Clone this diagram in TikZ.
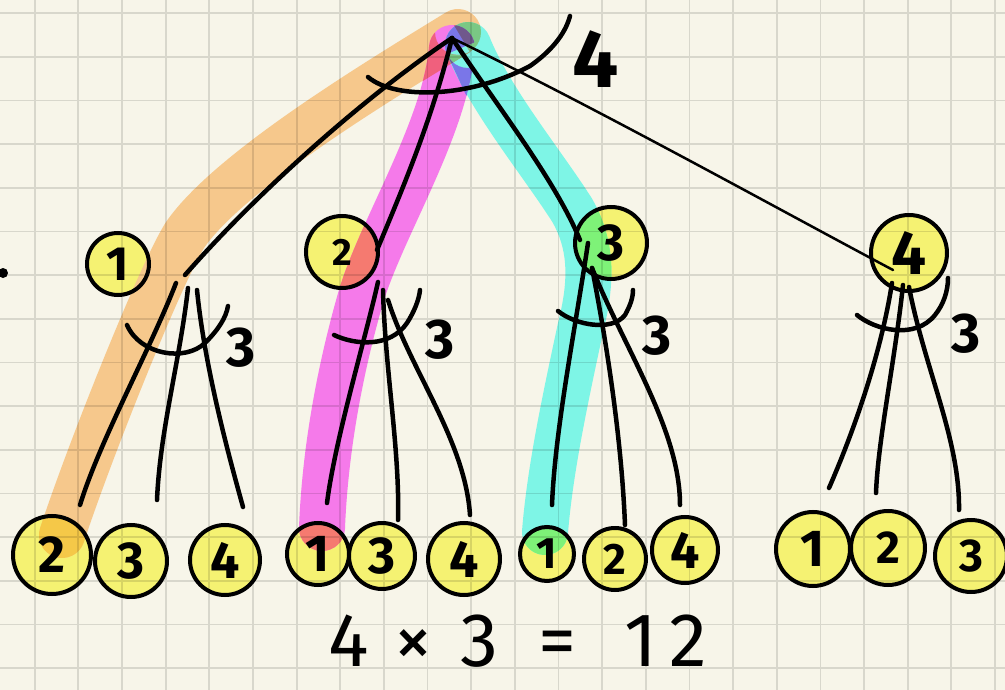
\documentclass[tikz,border=0pt]{standalone}
\usepackage{fontspec}
\setmainfont{Fira Sans}
\definecolor{paper}{RGB}{247,245,233}
\definecolor{discy}{RGB}{245,242,114}
\definecolor{hlorange}{RGB}{246,200,140}
\definecolor{hlmag}{RGB}{245,122,234}
\definecolor{hlcyan}{RGB}{126,245,230}
\definecolor{mixgold}{RGB}{245,200,72}
\definecolor{mixsalmon}{RGB}{245,122,112}
\definecolor{mixgreen}{RGB}{126,242,120}
\definecolor{mixred}{RGB}{240,96,125}
\definecolor{mixocyan}{RGB}{122,200,132}
\definecolor{mixblue}{RGB}{122,118,232}
\definecolor{mixdark}{RGB}{112,88,140}
\tikzset{
  disc/.style={circle, draw=black, line width=4pt, inner sep=0pt},
  ink/.style={line width=4.5pt, line cap=round, line join=round},
  thinink/.style={line width=2.5pt, line cap=round, line join=round},
  hl/.style={line width=46pt, line cap=round, line join=round},
  lbl/.style={inner sep=0pt, font=\bfseries\fontsize{56}{56}\selectfont}
}
% name / x / y / radius / font size / text
\def\disclist{n1/118/264/31/48/1, n2/342/252/36/38/2, n3/611/243/36/52/3, n4/909/253/38/62/4,
  b11/52/555/39/52/2, b12/131/561/36/52/3, b13/225/560/35/52/4,
  b21/318/554/31/52/1, b22/382/556/33/52/3, b23/464/559/36/52/4,
  b31/547/554/27/44/1, b32/615/559/31/44/2, b33/685/550/33/52/4,
  b41/813/549/37/52/1, b42/888/548/37/46/2, b43/971/556/36/46/3}
\def\orangepath{(458,32) .. controls (380,80) and (230,170) .. (185,235) .. controls (160,275) and (90,450) .. (62,535)}
\def\magpath{(452,48) .. controls (445,130) and (380,230) .. (360,300) .. controls (340,370) and (325,450) .. (322,528)}
\def\cyanpath{(468,45) .. controls (490,100) and (540,160) .. (572,210) .. controls (595,250) and (590,290) .. (580,330) .. controls (565,400) and (550,470) .. (545,532)}
\begin{document}
\begin{tikzpicture}[x=1pt,y=-1pt]
\useasboundingbox (0,0) rectangle (1005,690);
\fill[paper] (0,0) rectangle (1005,690);

% disc fills
\foreach \nm/\x/\y/\r/\fs/\t in \disclist { \fill[discy] (\x,\y) circle[radius=\r]; }

% highlighter strokes
\draw[hl, hlorange] \orangepath;
\draw[hl, hlmag] \magpath;
\draw[hl, hlcyan] \cyanpath;
% highlighter over discs
\begin{scope} \clip (52,555) circle[radius=39]; \draw[hl, mixgold] \orangepath; \end{scope}
\begin{scope} \clip (318,554) circle[radius=31]; \draw[hl, mixsalmon] \magpath; \end{scope}
\begin{scope} \clip (342,252) circle[radius=36]; \draw[hl, mixsalmon] \magpath; \end{scope}
\begin{scope} \clip (547,554) circle[radius=27]; \draw[hl, mixgreen] \cyanpath; \end{scope}
\begin{scope} \clip (611,243) circle[radius=36]; \draw[hl, mixgreen] \cyanpath; \end{scope}
% highlighter overlaps at the top
\begin{scope}
  \clip (470,52) -- (446,12) -- (368,60) -- (392,100) -- cycle (458,32) circle[radius=23];
  \draw[hl, mixred] \magpath;
  \draw[hl, mixocyan] \cyanpath;
\end{scope}
\begin{scope}
  \clip (489,36) -- (447,54) -- (479,123) -- (521,106) -- cycle (468,45) circle[radius=23];
  \draw[hl, mixblue] \magpath;
  \begin{scope}
    \clip (470,52) -- (446,12) -- (368,60) -- (392,100) -- cycle (458,32) circle[radius=23];
    \draw[hl, mixdark] \magpath;
  \end{scope}
\end{scope}

% grid paper
\draw[black, opacity=0.12, line width=1.8pt]
  \foreach \i in {0,...,22} { ({34.7+43.65*\i},0) -- ++(0,690) }
  \foreach \j in {0,...,15} { (0,{13.3+43.65*\j}) -- ++(1005,0) };

% stray dot
\fill (3,273) circle[radius=5];

% disc outlines with their numbers
\foreach \nm/\x/\y/\r/\fs/\t in \disclist {
  \node[disc, minimum size={2*\r*1pt}, font=\bfseries\fontsize{\fs}{\fs}\selectfont] (\nm) at (\x,\y) {\t};
}

% connector end points
\coordinate (r) at (452,38);
\coordinate (r1) at (185,275);
\coordinate (r2) at (377,250);
\coordinate (r3) at (580,240);
\coordinate (r4) at (893,270);
\coordinate (t11) at (176,283); \coordinate (e11) at (80,505);
\coordinate (t12) at (188,288); \coordinate (e12) at (157,500);
\coordinate (t13) at (197,290); \coordinate (e13) at (243,507);
\coordinate (t21) at (378,282); \coordinate (e21) at (327,503);
\coordinate (t22) at (383,290); \coordinate (e22) at (398,520);
\coordinate (t23) at (388,300); \coordinate (e23) at (470,515);
\coordinate (t31) at (588,243); \coordinate (e31) at (552,505);
\coordinate (t32) at (592,268); \coordinate (e32) at (625,525);
\coordinate (t33) at (592,268); \coordinate (e33) at (680,505);
\coordinate (t41) at (892,283); \coordinate (e41) at (829,488);
\coordinate (t42) at (903,285); \coordinate (e42) at (876,493);
\coordinate (t43) at (909,287); \coordinate (e43) at (959,510);

% root connectors
\draw[ink] (r) .. controls (360,100) and (255,195) .. (r1);
\draw[ink] (r) .. controls (432,120) and (402,190) .. (r2);
\draw[ink] (r) .. controls (500,110) and (555,180) .. (r3);
\draw[thinink] (r) .. controls (600,110) and (780,210) .. (r4);

% level 1 -> level 2 connectors
\draw[ink] (t11) .. controls (150,350) and (100,440) .. (e11);
\draw[ink] (t12) .. controls (180,360) and (160,430) .. (e12);
\draw[ink] (t13) .. controls (205,370) and (230,460) .. (e13);
\draw[ink] (t21) .. controls (365,340) and (335,440) .. (e21);
\draw[ink] (t22) .. controls (385,370) and (400,450) .. (e22);
\draw[ink] (t23) .. controls (410,370) and (465,440) .. (e23);
\draw[ink] (t31) .. controls (575,330) and (555,430) .. (e31);
\draw[ink] (t32) .. controls (610,360) and (622,450) .. (e32);
\draw[ink] (t33) .. controls (625,350) and (680,430) .. (e33);
\draw[ink] (t41) .. controls (880,360) and (850,440) .. (e41);
\draw[ink] (t42) .. controls (895,360) and (878,440) .. (e42);
\draw[ink] (t43) .. controls (925,370) and (960,440) .. (e43);

% counting arcs
\draw[ink] (368,77) .. controls (395,100) and (470,98) .. (530,66) .. controls (550,52) and (565,35) .. (570,16);
\draw[ink] (127,325) .. controls (140,355) and (185,362) .. (205,343) .. controls (218,330) and (226,318) .. (228,306);
\draw[ink] (334,335) .. controls (355,345) and (390,348) .. (407,323) .. controls (414,312) and (419,300) .. (420,290);
\draw[ink] (558,311) .. controls (575,325) and (612,332) .. (625,315) .. controls (630,306) and (633,298) .. (633,290);
\draw[ink] (857,315) .. controls (875,330) and (915,340) .. (935,315) .. controls (943,305) and (948,292) .. (948,278);

% arc labels
\node[lbl, font=\bfseries\fontsize{82}{82}\selectfont] (l0) at (596,59) {4};
\node[lbl] (l1) at (241,348) {3};
\node[lbl] (l2) at (440,340) {3};
\node[lbl] (l3) at (657,336) {3};
\node[lbl] (l4) at (966,334) {3};

% equation
\node[anchor=base west, inner sep=0pt, font=\fontsize{76}{76}\selectfont] (eq) at (328,666)
  {4\hspace{26pt}×\hspace{28pt}3\hspace{40pt}=\hspace{48pt}1\hspace{12pt}2};
\end{tikzpicture}
\end{document}
